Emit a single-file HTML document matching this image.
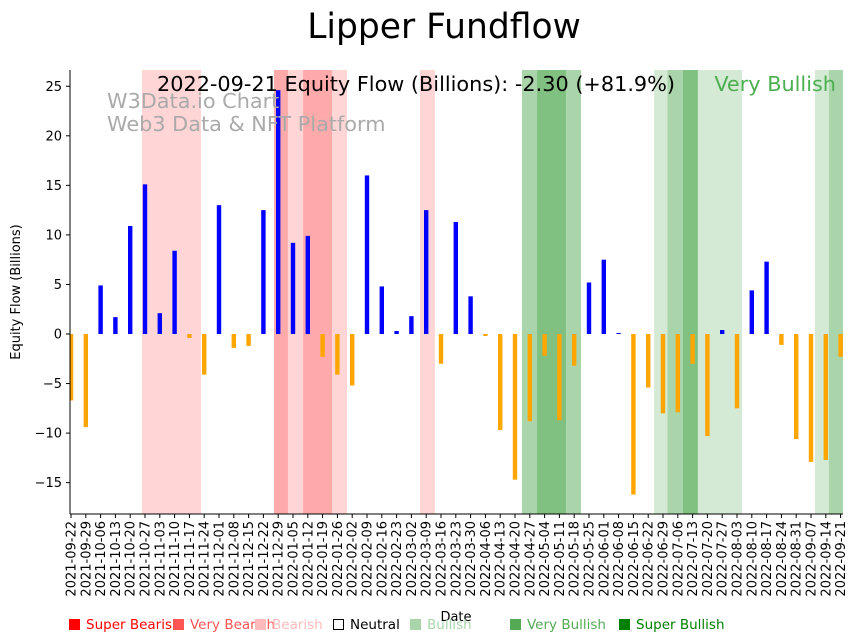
<!DOCTYPE html>
<html><head><meta charset="utf-8"><style>
html,body{margin:0;padding:0;background:#fff;}
svg{display:block;font-family:"DejaVu Sans","Liberation Sans",sans-serif;}
</style></head><body>
<svg id="chart" width="858" height="642" viewBox="0 0 858 642">
<text x="444" y="38" font-size="34.5" text-anchor="middle">Lipper Fundflow</text>
<g id="bands"></g>
<g id="bars"></g>
<text x="107" y="108" font-size="20.8" fill="#aaaaaa">W3Data.io Chart</text>
<text x="107" y="131" font-size="20.8" fill="#aaaaaa">Web3 Data &amp; NFT Platform</text>
<text x="157" y="91" font-size="20.8" fill="#000">2022-09-21 Equity Flow (Billions): -2.30 (+81.9%)</text>
<text x="836" y="91" font-size="20.8" fill="#4caf50" text-anchor="end">Very Bullish</text>
<g id="axes"></g>
<text transform="translate(20,292) rotate(-90)" font-size="13" text-anchor="middle">Equity Flow (Billions)</text>
<text x="456" y="621" font-size="13" text-anchor="middle">Date</text>
<g id="legend"></g>
</svg>
<script>
const dates=["2021-09-22","2021-09-29","2021-10-06","2021-10-13","2021-10-20","2021-10-27","2021-11-03","2021-11-10","2021-11-17","2021-11-24","2021-12-01","2021-12-08","2021-12-15","2021-12-22","2021-12-29","2022-01-05","2022-01-12","2022-01-19","2022-01-26","2022-02-02","2022-02-09","2022-02-16","2022-02-23","2022-03-02","2022-03-09","2022-03-16","2022-03-23","2022-03-30","2022-04-06","2022-04-13","2022-04-20","2022-04-27","2022-05-04","2022-05-11","2022-05-18","2022-05-25","2022-06-01","2022-06-08","2022-06-15","2022-06-22","2022-06-29","2022-07-06","2022-07-13","2022-07-20","2022-07-27","2022-08-03","2022-08-10","2022-08-17","2022-08-24","2022-08-31","2022-09-07","2022-09-14","2022-09-21"];
const flows=[-6.7,-9.4,4.9,1.7,10.9,15.1,2.1,8.4,-0.4,-4.1,13.0,-1.4,-1.2,12.5,24.6,9.2,9.9,-2.3,-4.1,-5.2,16.0,4.8,0.3,1.8,12.5,-3.0,11.3,3.8,-0.2,-9.7,-14.7,-8.8,-2.2,-8.7,-3.2,5.2,7.5,0.1,-16.2,-5.4,-8.0,-7.9,-3.0,-10.3,0.4,-7.5,4.4,7.3,-1.1,-10.6,-12.9,-12.7,-2.3];
const yTicks=[25,20,15,10,5,0,-5,-10,-15];
const bandStart=[4.8,13.72,14.66,15.68,17.64,23.58,30.47,31.49,33.45,39.4,40.3,41.35,42.36,50.27,51.2];
const bandEnd=[8.78,14.66,15.68,17.64,18.65,24.59,31.49,33.45,34.46,40.3,41.35,42.36,45.34,51.2,52.16];
const bandLevel=["bearish","very-bearish","bearish","very-bearish","bearish","bearish","bullish","very-bullish","bullish","slight-bullish","bullish","very-bullish","slight-bullish","slight-bullish","bullish"];
const legendLabels=["Super Bearish","Very Bearish","Bearish","Neutral","Bullish","Very Bullish","Super Bullish"];
const legendColors=["#ff0000","#ff5555","#ffbbbb","#000000","#aad5aa","#55aa55","#008000"];
const legendX=[69,173,255,333,410,510,619];

const NS="http://www.w3.org/2000/svg";
const L=70,R=843,T=70,B=514;
const x=i=>71+i*14.8;
const y=v=>334-v*9.91;
const bandColor={"bearish":"#ffd5d5","very-bearish":"#ffaaaa","slight-bullish":"#d5ead5","bullish":"#aad5aa","very-bullish":"#80c080"};
function mk(t,a,p){const e=document.createElementNS(NS,t);for(const k in a)e.setAttribute(k,a[k]);p.appendChild(e);return e;}

const gB=document.getElementById('bands');
bandStart.forEach((s,i)=>{
  const x0=Math.max(L,x(s)),x1=Math.min(R,x(bandEnd[i]));
  const r=mk('rect',{x:x0,y:T,width:x1-x0,height:B-T,fill:bandColor[bandLevel[i]]},gB);
  
  
});
const gBar=document.getElementById('bars');
flows.forEach((v,i)=>{
  let x0=x(i)-2.2,w=4.4;
  if(x0<L){w-=L-x0;x0=L;}
  const r=mk('rect',{x:x0,y:Math.min(y(v),y(0)),width:w,height:Math.abs(y(v)-y(0)),fill:v>=0?"#0000ff":"#ffa500"},gBar);
  
  
});
const gA=document.getElementById('axes');
mk('line',{x1:L,y1:T,x2:L,y2:B,stroke:'#000','stroke-width':1},gA);
mk('line',{x1:L,y1:B,x2:R,y2:B,stroke:'#000','stroke-width':1},gA);
yTicks.forEach(v=>{
  mk('line',{x1:L-4,y1:y(v),x2:L,y2:y(v),stroke:'#000'},gA);
  const t=mk('text',{x:L-8,y:y(v)+4.5,'font-size':13,'text-anchor':'end'},gA);
  t.textContent=v<0?'\u2212'+(-v):v;
  
  
});
dates.forEach((d,i)=>{
  mk('line',{x1:x(i),y1:B,x2:x(i),y2:B+4,stroke:'#000'},gA);
  const t=mk('text',{transform:`translate(${x(i)+4.5},${B+7}) rotate(-90)`,'font-size':13,'text-anchor':'end'},gA);
  t.textContent=d;
  
  
});
const gL=document.getElementById('legend');
legendLabels.forEach((lab,i)=>{
  const g=mk('g',{},gL);
  
  
  if(lab==="Neutral") mk('rect',{x:legendX[i]+0.5,y:619.5,width:10,height:10,fill:'none',stroke:'#000'},g);
  else mk('rect',{x:legendX[i],y:619,width:11,height:11,fill:legendColors[i]},g);
  const t=mk('text',{x:legendX[i]+17,y:629,'font-size':13.5,fill:legendColors[i]},g);
  t.textContent=lab;
});
</script>
</body></html>
